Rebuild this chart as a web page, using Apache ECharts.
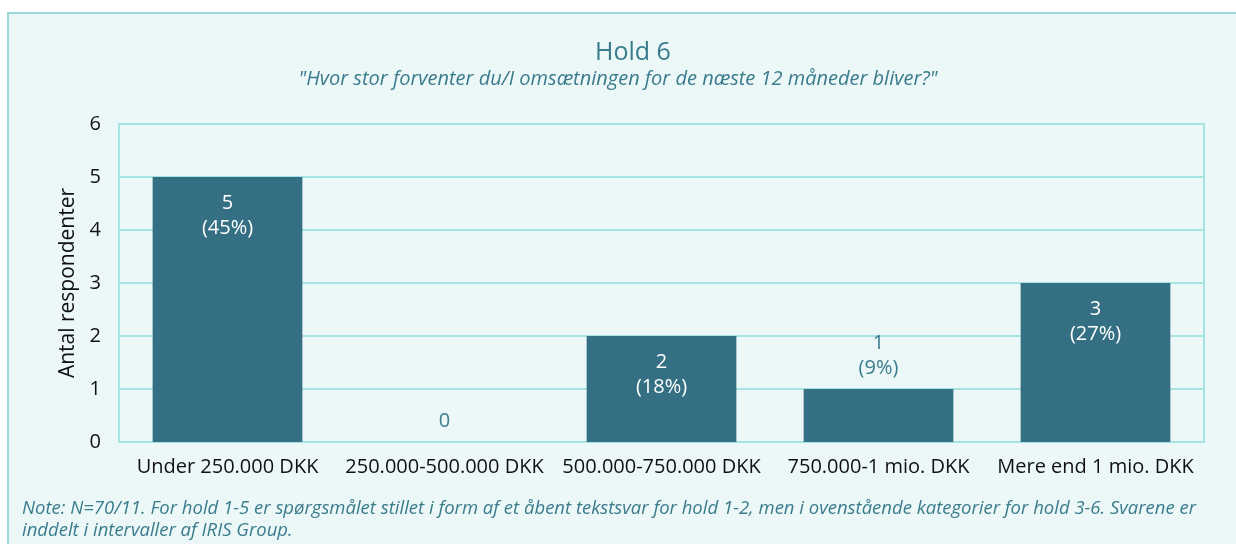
<!DOCTYPE html>
<html>
<head>
<meta charset="utf-8">
<script src="https://cdn.jsdelivr.net/npm/echarts@6/dist/echarts.min.js"></script>
<style>
  html, body { margin: 0; padding: 0; background: #fff; }
  .frame {
    position: absolute; left: 7px; top: 12px; width: 1240px; height: 540px;
    background: #ecf8f8; border-left: 2px solid #9ad8d9; border-top: 2px solid #9ad8d9;
  }
  #chart { position: absolute; left: 0; top: 0; width: 1236px; height: 544px; }
</style>
</head>
<body>
<div class="frame"></div>
<div id="chart"></div>
<script>
// data
const categories = ['Under 250.000 DKK', '250.000-500.000 DKK', '500.000-750.000 DKK', '750.000-1 mio. DKK', 'Mere end 1 mio. DKK']
const counts = [5, 0, 2, 1, 3]
const percents = ['45%', '', '18%', '9%', '27%']
const yTicks = [0, 1, 2, 3, 4, 5, 6]

const teal = '#3a7b8c'
const barColor = '#346f83'
const lineColor = '#a6e3e4'
const font = '"Open Sans", "Noto Sans", sans-serif'

const chart = echarts.init(document.getElementById('chart'))

// labels: inside bar when tall enough, otherwise above in teal
const data = counts.map((v, i) => {
  const txt = percents[i] ? v + '\n(' + percents[i] + ')' : String(v)
  const inside = v >= 2
  return {
    value: v,
    label: {
      show: true,
      formatter: txt,
      position: inside ? 'insideTop' : 'top',
      distance: inside ? 14 : 8,
      color: inside ? '#ffffff' : teal,
      fontSize: 20,
      lineHeight: 25,
      fontFamily: font
    }
  }
})

const option = {
  backgroundColor: 'transparent',
  title: [
    {
      text: 'Hold 6',
      left: 590,
      top: 35,
      textStyle: { color: teal, fontSize: 25, fontWeight: 'normal', fontFamily: font }
    },
    {
      text: '"Hvor stor forventer du/I omsætningen for de næste 12 måneder bliver?"',
      left: 'center',
      top: 64,
      textStyle: { color: teal, fontSize: 20, fontStyle: 'italic', fontWeight: 'normal', fontFamily: font }
    }
  ],
  graphic: [
    {
      type: 'text',
      left: 22,
      top: 498,
      style: {
        text: 'Note: N=70/11. For hold 1-5 er spørgsmålet stillet i form af et åbent tekstsvar for hold 1-2, men i ovenstående kategorier for hold 3-6. Svarene er\ninddelt i intervaller af IRIS Group.',
        fill: teal,
        font: 'italic 18.5px ' + font,
        lineHeight: 22
      }
    }
  ],
  grid: {
    left: 119, right: 32, top: 124, bottom: 102,
    show: true, borderColor: lineColor, borderWidth: 2, backgroundColor: 'transparent'
  },
  xAxis: {
    type: 'category',
    data: categories,
    axisLine: { lineStyle: { color: lineColor, width: 2 } },
    axisTick: { show: false },
    axisLabel: { color: '#111', fontSize: 20, margin: 15, fontFamily: font, interval: 0 }
  },
  yAxis: {
    type: 'value',
    min: yTicks[0],
    max: yTicks[yTicks.length - 1],
    interval: 1,
    name: 'Antal respondenter',
    nameLocation: 'middle',
    nameGap: 38,
    nameTextStyle: { color: '#111', fontSize: 21, fontFamily: font },
    axisLine: { show: true, lineStyle: { color: lineColor, width: 2 } },
    axisLabel: { color: '#111', fontSize: 20, margin: 18, fontFamily: font },
    splitLine: { lineStyle: { color: lineColor, width: 2 } }
  },
  series: [
    {
      type: 'bar',
      data: data,
      barCategoryGap: '31%',
      itemStyle: { color: barColor }
    }
  ]
}

chart.setOption(option)
</script>
</body>
</html>
